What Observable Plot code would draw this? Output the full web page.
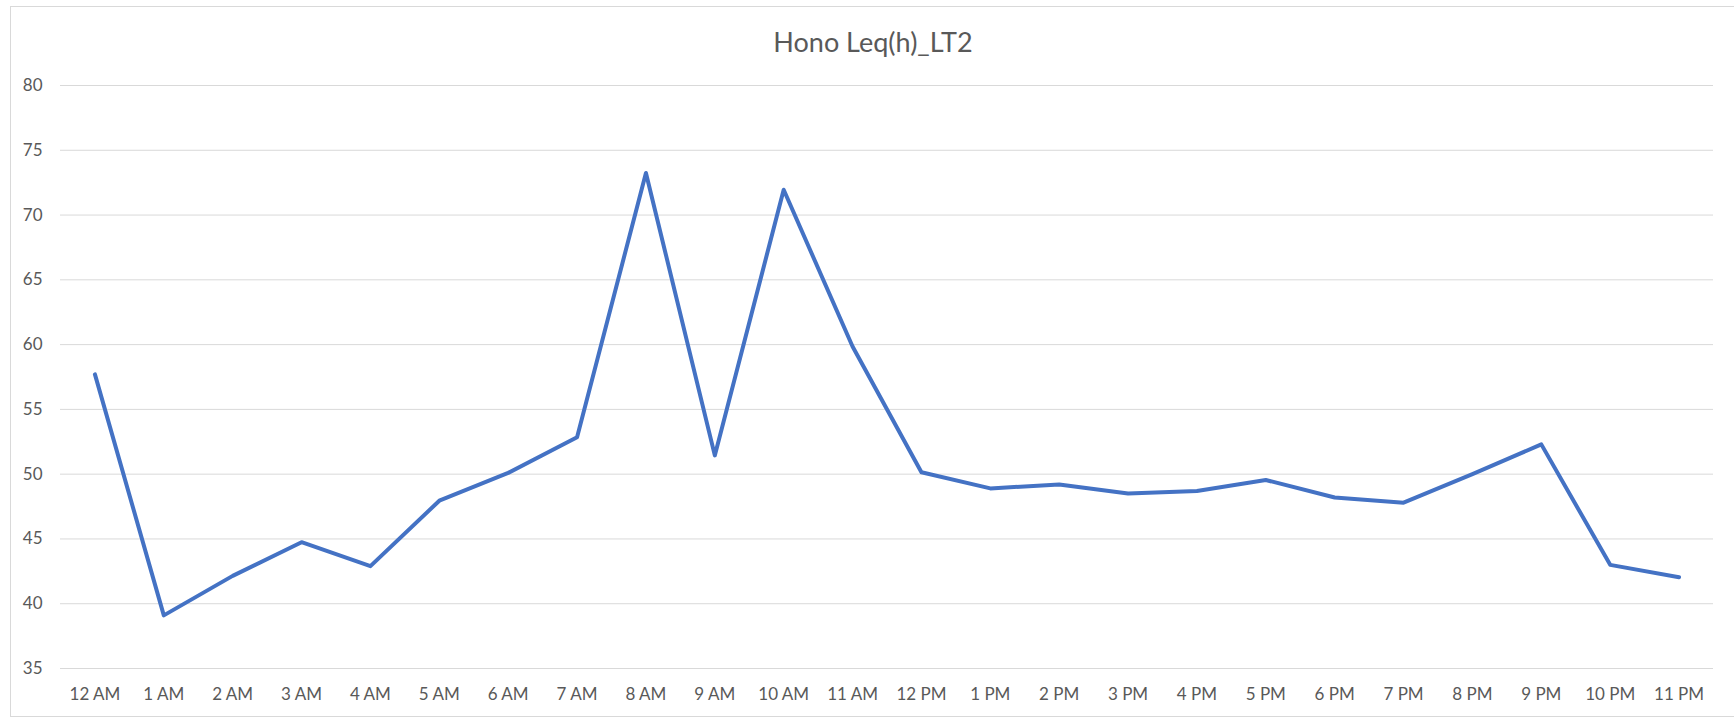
<!DOCTYPE html>
<html>
<head>
<meta charset="utf-8">
<script src="https://cdn.jsdelivr.net/npm/d3@7"></script>
<script src="https://cdn.jsdelivr.net/npm/@observablehq/plot@0.6"></script>
<style>
  html, body { margin: 0; padding: 0; background: #fff; }
  #wrap { position: relative; width: 1734px; height: 719px; overflow: hidden; }
  #frame { position: absolute; left: 10px; top: 6px; width: 1730px; height: 711px;
           border-left: 1px solid #d9d9d9; border-top: 1px solid #d9d9d9; border-bottom: 1px solid #d9d9d9; box-sizing: border-box; }
  #chart { position: absolute; left: 0; top: 0; }
</style>
</head>
<body>
<div id="wrap"><div id="frame"></div><div id="chart"></div></div>
<script>
const title = "Hono Leq(h)_LT2";
const hours = ["12 AM","1 AM","2 AM","3 AM","4 AM","5 AM","6 AM","7 AM","8 AM","9 AM","10 AM","11 AM",
               "12 PM","1 PM","2 PM","3 PM","4 PM","5 PM","6 PM","7 PM","8 PM","9 PM","10 PM","11 PM"];
const leq = [57.7, 39.1, 42.15, 44.75, 42.9, 47.95, 50.1, 52.85, 73.25, 51.45, 71.95, 59.85,
             50.15, 48.9, 49.2, 48.5, 48.7, 49.55, 48.2, 47.8, 50.0, 52.3, 43.0, 42.05];
const yTicks = [35, 40, 45, 50, 55, 60, 65, 70, 75, 80];

const data = hours.map((h, i) => ({hour: h, value: leq[i]}));
const font = "Lato, 'Open Sans', sans-serif";
const grey = "#595959";

const chart = Plot.plot({
  width: 1734,
  height: 719,
  marginLeft: 60,
  marginRight: 21,
  marginTop: 85,
  marginBottom: 51,
  style: {fontFamily: font, background: "transparent", overflow: "visible"},
  x: {type: "point", domain: hours, padding: 0.5, round: false, label: null},
  y: {domain: [35, 80], label: null},
  marks: [
    Plot.gridY(yTicks, {stroke: "#d9d9d9", strokeOpacity: 1, strokeWidth: 1}),
    Plot.axisY(yTicks, {tickSize: 0, tickPadding: 18, fontSize: 17, fill: grey, label: null}),
    Plot.axisX({tickSize: 0, tickPadding: 19, fontSize: 17, fill: grey, label: null}),
    Plot.line(data, {x: "hour", y: "value", stroke: "#4472C4", strokeWidth: 4, strokeLinejoin: "round", strokeLinecap: "round"}),
    Plot.text([title], {frameAnchor: "top", dx: -14, dy: -42, fontSize: 27, fill: grey, fontFamily: font, lineAnchor: "middle"})
  ]
});
document.getElementById("chart").appendChild(chart);
</script>
</body>
</html>
